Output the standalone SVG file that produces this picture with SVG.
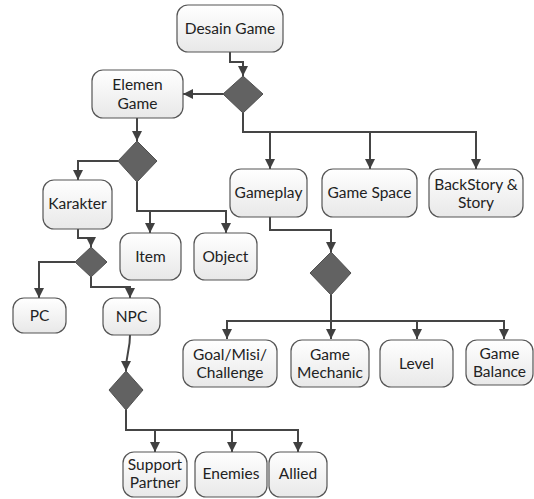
<svg xmlns="http://www.w3.org/2000/svg" width="534" height="499" viewBox="0 0 534 499">
<defs>
<linearGradient id="g" x1="0" y1="0" x2="0" y2="1">
<stop offset="0" stop-color="#ffffff"/>
<stop offset="1" stop-color="#e8e8e8"/>
</linearGradient>
<marker id="ah" viewBox="0 0 10 10" refX="10" refY="5" markerWidth="5" markerHeight="5" markerUnits="strokeWidth" orient="auto">
<path d="M0,0 L10,5 L0,10 z" fill="#404040"/>
</marker>
<style>
.box{fill:url(#g);stroke:#555555;stroke-width:1.2}
.dia{fill:#626262;stroke:#505050;stroke-width:1}
.t{font-family:Lato,"Open Sans","Liberation Sans",sans-serif;font-size:15.5px;fill:#222;text-anchor:middle}
#connectors path{fill:none;stroke:#454545;stroke-width:2;marker-end:url(#ah)}
</style>
</defs>
<rect width="534" height="499" fill="#ffffff"/>
<g id="connectors">
<path d="M230,52 V62 H243 V76"/>
<path d="M223,94 H183"/>
<path d="M243,113 V132 H270 V169"/>
<path d="M270,132 H370 V169"/>
<path d="M370,132 H476 V169"/>
<path d="M137,118 V141"/>
<path d="M118,161 H78 V180"/>
<path d="M137,182 V211 H150 V233"/>
<path d="M150,211 H226 V233"/>
<path d="M78,229 V238 H91 V247"/>
<path d="M75,262 H39 V298"/>
<path d="M91,277 V287 H130 V298"/>
<path d="M130,335 C130,352 126,352 126,371"/>
<path d="M126,410 V430 H155 V452"/>
<path d="M155,430 H232 V452"/>
<path d="M232,430 H298 V452"/>
<path d="M270,217 V230 H331 V252"/>
<path d="M331,295 V339"/>
<path d="M331,321 H227 V339"/>
<path d="M331,321 H417 V339"/>
<path d="M417,321 H504 V339"/>
</g>
<g id="d1"><polygon class="dia" points="243,76 263,94 243,113 223,94"/></g>
<g id="d2"><polygon class="dia" points="137,141 157,161 137,182 118,161"/></g>
<g id="d3"><polygon class="dia" points="331,252 351,273 331,295 310,273"/></g>
<g id="d4"><polygon class="dia" points="91,247 107,262 91,277 75,262"/></g>
<g id="d5"><polygon class="dia" points="126,371 143,390 126,410 109,390"/></g>
<g id="desain-game"><rect class="box" x="177" y="5" width="106" height="47" rx="11"/><text class="t" x="230" y="34">Desain Game</text></g>
<g id="elemen-game"><rect class="box" x="92" y="70" width="91" height="48" rx="11"/><text class="t" x="137.500" y="90">Elemen</text><text class="t" x="137.500" y="109">Game</text></g>
<g id="gameplay"><rect class="box" x="230" y="169" width="77" height="48" rx="11"/><text class="t" x="268.500" y="198">Gameplay</text></g>
<g id="game-space"><rect class="box" x="322" y="169" width="95" height="48" rx="11"/><text class="t" x="369.500" y="198">Game Space</text></g>
<g id="backstory"><rect class="box" x="429" y="169" width="94" height="48" rx="11"/><text class="t" x="476" y="190">BackStory &amp;</text><text class="t" x="476" y="208">Story</text></g>
<g id="karakter"><rect class="box" x="43" y="180" width="69" height="49" rx="11"/><text class="t" x="77.500" y="209">Karakter</text></g>
<g id="item"><rect class="box" x="120" y="233" width="61" height="47" rx="11"/><text class="t" x="150.500" y="262">Item</text></g>
<g id="object"><rect class="box" x="194" y="233" width="63" height="47" rx="11"/><text class="t" x="225.500" y="262">Object</text></g>
<g id="pc"><rect class="box" x="13" y="298" width="53" height="35" rx="11"/><text class="t" x="39.500" y="321">PC</text></g>
<g id="npc"><rect class="box" x="103" y="298" width="57" height="37" rx="11"/><text class="t" x="131.500" y="322">NPC</text></g>
<g id="goal"><rect class="box" x="183" y="340" width="94" height="47" rx="11"/><text class="t" x="230" y="360">Goal/Misi/</text><text class="t" x="230" y="378">Challenge</text></g>
<g id="game-mechanic"><rect class="box" x="291" y="340" width="78" height="47" rx="11"/><text class="t" x="330" y="360">Game</text><text class="t" x="330" y="378">Mechanic</text></g>
<g id="level"><rect class="box" x="380" y="340" width="73" height="47" rx="11"/><text class="t" x="416.500" y="369">Level</text></g>
<g id="game-balance"><rect class="box" x="466" y="340" width="67" height="45" rx="11"/><text class="t" x="499.500" y="359">Game</text><text class="t" x="499.500" y="377">Balance</text></g>
<g id="support-partner"><rect class="box" x="123" y="452" width="64" height="45" rx="11"/><text class="t" x="155" y="470">Support</text><text class="t" x="155" y="488">Partner</text></g>
<g id="enemies"><rect class="box" x="195" y="452" width="72" height="45" rx="11"/><text class="t" x="231" y="479">Enemies</text></g>
<g id="allied"><rect class="box" x="269" y="452" width="58" height="45" rx="11"/><text class="t" x="298" y="479">Allied</text></g>
</svg>
